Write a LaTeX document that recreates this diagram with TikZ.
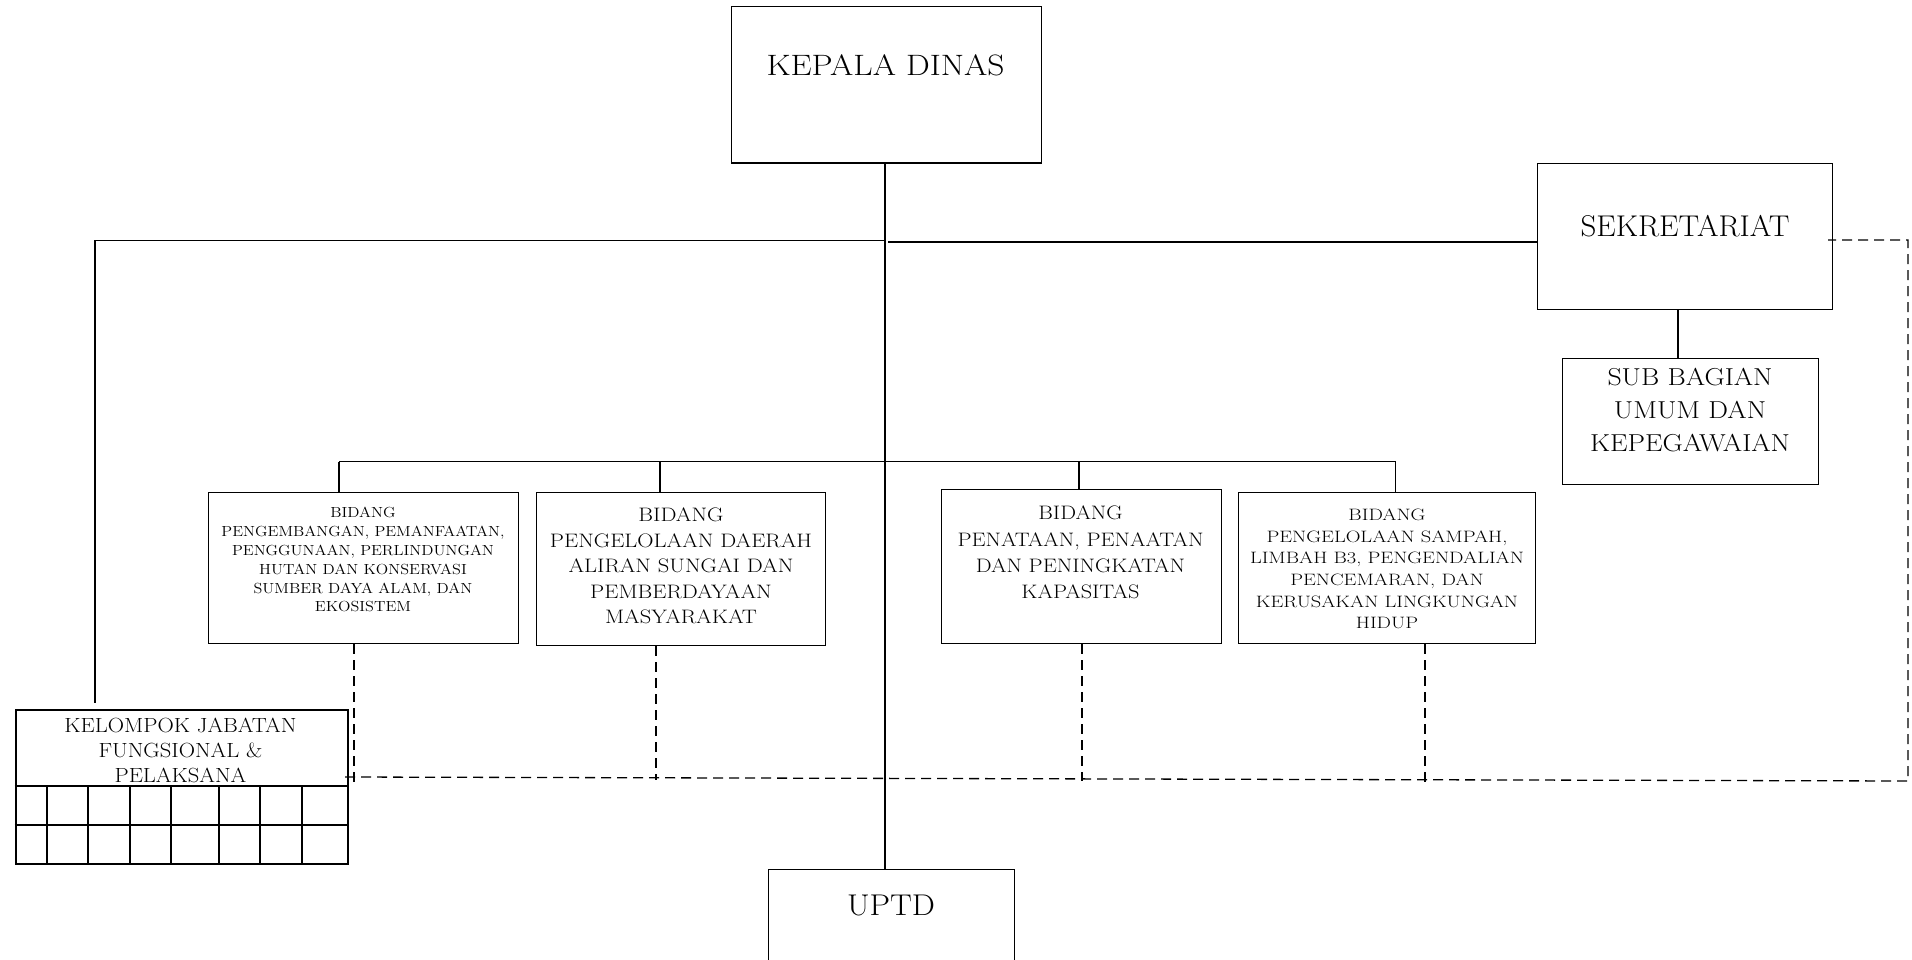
\documentclass[tikz,border=0pt]{standalone}
\usepackage{fontspec}
\usepackage{graphicx}
\newcommand\setfs[2]{\fontsize{#1}{#2}\selectfont}
\newcommand\fitto[2]{\resizebox{#1}{\height}{\begin{tabular}{@{}c@{}}#2\end{tabular}}}
\tikzset{
  box/.style={draw, line width=1.3pt, inner sep=0pt, anchor=north west},
  conn/.style={line width=1.3pt},
  dconn/.style={line width=1.3pt, dash pattern=on 10pt off 6pt},
  lbl/.style={inner sep=0pt},
  gridline/.style={line width=2pt},
}
\begin{document}
\begin{tikzpicture}[x=1pt,y=-1pt]
\useasboundingbox (0,0) rectangle (1912,960);
\clip (0,0) rectangle (1912,960);

% boxes
\node[box, minimum width=310pt, minimum height=156.5pt] (kd) at (730.5,6) {};
\node[box, minimum width=295pt, minimum height=146pt] (sek) at (1537,163) {};
\node[box, minimum width=256pt, minimum height=126pt] (sub) at (1562,358) {};
\node[box, minimum width=246pt, minimum height=140pt] (uptd) at (768,869) {};
\node[box, minimum width=310pt, minimum height=151pt] (b1) at (208,492) {};
\node[box, minimum width=289pt, minimum height=153pt] (b2) at (536,492) {};
\node[box, minimum width=280.5pt, minimum height=154pt] (b3) at (940.5,489) {};
\node[box, minimum width=297pt, minimum height=151pt] (b4) at (1238,492) {};
\node[box, gridline, minimum width=332pt, minimum height=153.5pt] (kjf) at (14.7,709) {};

% texts
\node[lbl, font=\setfs{29.5}{35}] (tkd) at (885.5,68.1) {\fitto{238pt}{KEPALA DINAS}};
\node[lbl, font=\setfs{30}{36}] (tsek) at (1685,229) {\fitto{209pt}{SEKRETARIAT}};
\node[lbl, font=\setfs{24.5}{33.3}] (tsub) at (1690,411.7) {\fitto{200pt}{SUB BAGIAN\\UMUM DAN\\KEPEGAWAIAN}};
\node[lbl, font=\setfs{30}{36}] (tuptd) at (891,908) {\fitto{88pt}{UPTD}};
\node[lbl, font=\setfs{14.6}{18.8}] (tb1) at (363,561.2) {\fitto{283pt}{BIDANG\\PENGEMBANGAN, PEMANFAATAN,\\PENGGUNAAN, PERLINDUNGAN\\HUTAN DAN KONSERVASI\\SUMBER DAYA ALAM, DAN\\EKOSISTEM}};
\node[lbl, font=\setfs{19.5}{25.5}] (tb2) at (681,567.6) {\fitto{262pt}{BIDANG\\PENGELOLAAN DAERAH\\ALIRAN SUNGAI DAN\\PEMBERDAYAAN\\MASYARAKAT}};
\node[lbl, font=\setfs{19.5}{26.3}] (tb3) at (1080.5,553.9) {\fitto{246pt}{BIDANG\\PENATAAN, PENAATAN\\DAN PENINGKATAN\\KAPASITAS}};
\node[lbl, font=\setfs{16.5}{21.6}] (tb4) at (1387,570.3) {\fitto{274pt}{BIDANG\\PENGELOLAAN SAMPAH,\\LIMBAH B3, PENGENDALIAN\\PENCEMARAN, DAN\\KERUSAKAN LINGKUNGAN\\HIDUP}};
\node[lbl, font=\setfs{20.5}{25}] (tkjf) at (180.5,752) {\fitto{232pt}{KELOMPOK JABATAN\\FUNGSIONAL \&\\PELAKSANA}};

% grid of KELOMPOK box
\coordinate (g0) at (14.7,786);
\coordinate (g1) at (14.7,825);
\draw[gridline] (g0) -- (g0 -| kjf.east);
\draw[gridline] (g1) -- (g1 -| kjf.east);
\foreach \gx in {46.7,88,130,171,219,260,302}{
  \draw[gridline] (\gx,786) -- (\gx,862.5);
}

% solid connectors
\coordinate (mv) at (885,0);
\draw[conn] (mv |- kd.south) -- (mv |- uptd.north);
\coordinate (tl) at (95,240.5);
\draw[conn] (mv |- tl) -- (tl) -- ([yshift=6pt]tl |- kjf.north);
\coordinate (tr) at (888,242);
\draw[conn] (tr) -- (tr -| sek.west);
\coordinate (ss) at (1678,0);
\draw[conn] (ss |- sek.south) -- (ss |- sub.north);
\coordinate (s1) at (339,461.5);
\coordinate (s2) at (660,461.5);
\coordinate (s3) at (1079,461.5);
\coordinate (s4) at (1395.5,461.5);
\draw[conn] (s1) -- (s4);
\draw[conn] (s1) -- (s1 |- b1.north);
\draw[conn] (s2) -- (s2 |- b2.north);
\draw[conn] (s3) -- (s3 |- b3.north);
\draw[conn] (s4) -- (s4 |- b4.north);

% dashed connectors
\coordinate (dl) at (345,777);
\coordinate (dr) at (1908,781);
\coordinate (dt) at (1908,240);
\coordinate (ds) at (1828,240);
\draw[dconn] (dl) -- (dr) -- (dt) -- (ds);
\coordinate (d1) at (354,782);
\coordinate (d2) at (656,780);
\coordinate (d3) at (1082,781);
\coordinate (d4) at (1425,784);
\draw[dconn] (d1 |- b1.south) -- (d1);
\draw[dconn] (d2 |- b2.south) -- (d2);
\draw[dconn] (d3 |- b3.south) -- (d3);
\draw[dconn] (d4 |- b4.south) -- (d4);
\end{tikzpicture}
\end{document}
